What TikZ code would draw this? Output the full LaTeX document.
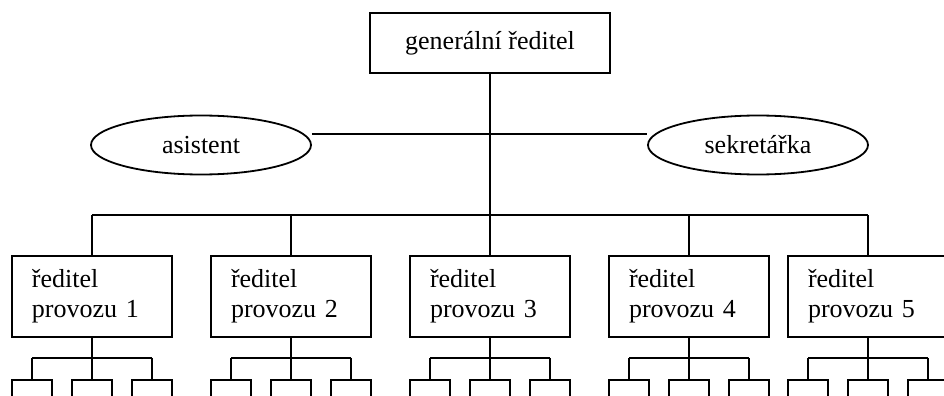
\documentclass[tikz,border=0pt]{standalone}
\usepackage{fontspec}
\setmainfont{Liberation Serif}
\usetikzlibrary{shapes.geometric, positioning, calc}

\begin{document}
\begin{tikzpicture}[x=0.5pt, y=-0.5pt, line width=0.9pt,
    txt/.style={font=\fontsize{13}{15}\selectfont},
    boss/.style={rectangle, draw, txt, minimum width=120pt, minimum height=30pt},
    staff/.style={ellipse, draw, txt, minimum width=110pt, minimum height=29.5pt, inner sep=0pt},
    head/.style={rectangle, draw, txt, text width=60pt, inner xsep=10pt, minimum height=40.5pt, align=left},
    unit/.style={rectangle, draw, minimum width=20pt, minimum height=20pt, anchor=north}
]
\useasboundingbox (0,0) rectangle (944,396);

\node[boss] (gen) at (490,43) {generální ředitel};
\node[staff] (asist) at (201,145) {asistent};
\node[staff] (sekr) at (758,145) {sekretářka};

\node[head] (p1) at (92,296.5) {ředitel\\provozu 1};
\node[head] (p2) at (291,296.5) {ředitel\\provozu 2};
\node[head] (p3) at (490,296.5) {ředitel\\provozu 3};
\node[head] (p4) at (689,296.5) {ředitel\\provozu 4};
\node[head] (p5) at (868,296.5) {ředitel\\provozu 5};

\coordinate (side) at (490,134);
\coordinate (bus) at (490,215);

\draw (gen) -- (gen |- bus);
\draw (asist.east |- side) -- (sekr.west |- side);
\draw (p1 |- bus) -- (p5 |- bus);
\draw (p1 |- bus) -- (p1);
\draw (p2 |- bus) -- (p2);
\draw (p3 |- bus) -- (p3);
\draw (p4 |- bus) -- (p4);
\draw (p5 |- bus) -- (p5);

\foreach \i in {1,...,5} {
    \coordinate (t\i) at ($(p\i.south)+(0,20)$);
    \draw (p\i) -- (t\i);
    \foreach \j/\dx in {1/-60, 2/0, 3/60}
        \node[unit] (u\i\j) at ($(t\i)+(\dx,21)$) {};
    \draw (u\i1 |- t\i) -- (u\i3 |- t\i);
    \foreach \j in {1,2,3}
        \draw (u\i\j |- t\i) -- (u\i\j);
}

\end{tikzpicture}
\end{document}
